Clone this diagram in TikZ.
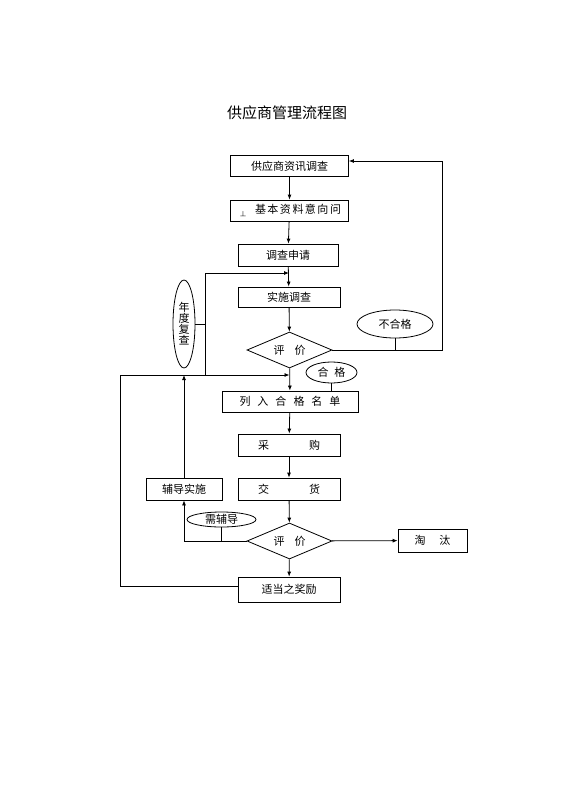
\documentclass[tikz,border=0pt]{standalone}
\usepackage{fontspec}
\setmainfont{Noto Sans CJK SC}
\usetikzlibrary{shapes.geometric,arrows.meta,calc}
\tikzset{
  box/.style={draw,line width=0.8pt,rectangle,inner sep=0pt,font=\fontsize{11}{12}\selectfont},
  dia/.style={draw,line width=0.8pt,diamond,aspect=2.4,inner sep=0pt,minimum width=85pt,minimum height=36pt,font=\fontsize{11}{12}\selectfont},
  ell/.style={draw,line width=0.8pt,ellipse,inner sep=0pt,font=\fontsize{11}{12}\selectfont},
  ln/.style={line width=0.8pt},
  arr/.style={line width=0.8pt,-{Latex[length=5pt,width=4pt]}}
}
\begin{document}
\begin{tikzpicture}[x=1pt,y=-1pt]
\useasboundingbox (0,0) rectangle (560,792);
\node (title) at (287,113) {\fontsize{15}{16}\selectfont 供应商管理流程图};
\node[box,minimum width=118pt,minimum height=21pt] (b1) at (289.5,166) {供应商资讯调查};
\node[box,minimum width=118pt,minimum height=21pt] (b2) at (289.5,210.5) {\hspace{2pt}\raisebox{-3pt}{\fontsize{6}{6}\selectfont 丄}\hspace{9pt}基\hspace{1.5pt}本\hspace{1.5pt}资\hspace{1.5pt}料\hspace{1.5pt}意\hspace{1.5pt}向\hspace{1.5pt}问};
\node[box,minimum width=100pt,minimum height=22pt] (b3) at (288,255) {调查申请};
\node[box,minimum width=102pt,minimum height=20pt] (b4) at (289,297) {实施调查};
\node[dia] (d1) at (289.5,350) {评\hspace{10pt}价};
\node[box,minimum width=136pt,minimum height=21pt] (b5) at (290,401.5) {列\hspace{7pt}入\hspace{7pt}合\hspace{7pt}格\hspace{7pt}名\hspace{7pt}单};
\node[box,minimum width=102pt,minimum height=22pt] (b6) at (289,445) {采\hspace{40pt}购};
\node[box,minimum width=102pt,minimum height=22pt] (b7) at (289,489) {交\hspace{40pt}货};
\node[box,minimum width=76pt,minimum height=22pt] (fd) at (184,489) {辅导实施};
\node[dia] (d2) at (289.5,541) {评\hspace{10pt}价};
\node[box,minimum width=69pt,minimum height=23pt] (tt) at (432.5,540.5) {淘\hspace{14pt}汰};
\node[box,minimum width=102pt,minimum height=25pt] (jl) at (289,589.5) {适当之奖励};
\node[ell,minimum width=22pt,minimum height=88pt,align=center] (e1) at (184,324) {年\\[-1pt]度\\[-1pt]复\\[-1pt]查};
\node[ell,minimum width=76pt,minimum height=28pt] (e2) at (395,324) {不合格};
\node[ell,minimum width=51pt,minimum height=21pt] (e3) at (331.5,372.5) {合\hspace{6pt}格};
\node[ell,minimum width=69pt,minimum height=15pt] (e4) at (221.5,519.5) {需辅导};
\coordinate (j1) at (289,273);
\coordinate (j2) at (289.5,375);
\coordinate (c1) at (205,375);
\coordinate (c2) at (120,375);
\draw[arr] (b1) -- (b2);
\draw[arr] (b2) -- (b3);
\draw[arr] (b3) -- (b4);
\draw[arr] (b4) -- (d1);
\draw[arr] (d1) -- (b5);
\draw[arr] (b5) -- (b6);
\draw[arr] (b6) -- (b7);
\draw[arr] (b7) -- (d2);
\draw[arr] (d2) -- (jl);
\draw[arr] (d2) -- (tt);
\draw[arr] (d2.west) -- (fd.south |- d2.west) -- (fd.south);
\draw[arr] (fd.north) -- (fd.north |- c2);
\draw[arr] (c1) -- (c1 |- j1) -- (j1);
\draw[ln] (e1.east) -- (e1.east -| c1);
\draw[arr] ([yshift=3pt]jl.west) -- ([yshift=3pt]jl.west -| c2) -- (c2) -- (j2);
\draw[arr] (d1.east) -- (442,350) -- (442,161) -- ([yshift=5pt]b1.east);
\draw[ln] (e2.south) -- (e2.south |- d1.east);
\draw[ln] (e3.south) -- (e3.south |- b5.north);
\draw[ln] (e4.south) -- (e4.south |- d2.west);
\end{tikzpicture}
\end{document}
